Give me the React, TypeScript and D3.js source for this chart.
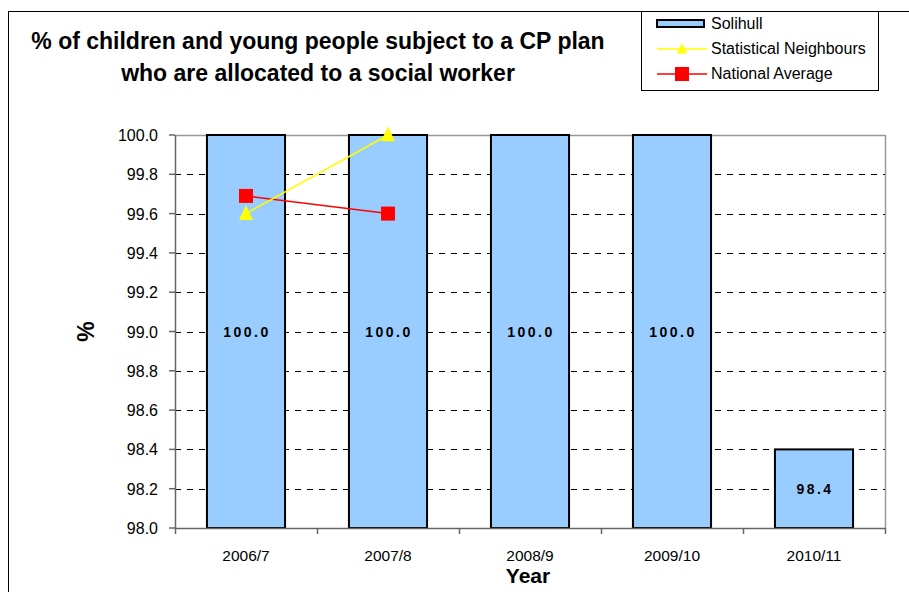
import React from "react";
import * as d3 from "d3";

// Chart data
const years = ["2006/7", "2007/8", "2008/9", "2009/10", "2010/11"];
const solihull = [100.0, 100.0, 100.0, 100.0, 98.4];
const statNeighbours: (number | null)[] = [99.6, 100.0, null, null, null];
const nationalAverage: (number | null)[] = [99.69, 99.6, null, null, null];
const yTicks = [98.0, 98.2, 98.4, 98.6, 98.8, 99.0, 99.2, 99.4, 99.6, 99.8, 100.0];

const W = 909;
const H = 592;
const plot = { left: 175, right: 885, top: 135, bottom: 528 };
const FONT = "'Liberation Sans', Arial, sans-serif";

export default function App() {
  const x = d3
    .scaleBand<string>()
    .domain(years)
    .range([plot.left, plot.right])
    .paddingInner(0.45)
    .paddingOuter(0.225);
  const xOuter = d3.scaleBand<string>().domain(years).range([plot.left, plot.right]);
  const y = d3.scaleLinear().domain([98, 100]).range([plot.bottom, plot.top]);

  const cx = (c: string) => (xOuter(c) as number) + xOuter.bandwidth() / 2;

  const lineGen = d3
    .line<[string, number | null]>()
    .defined((d) => d[1] !== null)
    .x((d) => cx(d[0]))
    .y((d) => y(d[1] as number));

  const snPts = years.map((c, i) => [c, statNeighbours[i]] as [string, number | null]);
  const naPts = years.map((c, i) => [c, nationalAverage[i]] as [string, number | null]);

  const tri = (px: number, py: number, s: number) =>
    `M${px},${py - s * 0.6}L${px + s / 2},${py + s * 0.45}L${px - s / 2},${py + s * 0.45}Z`;

  const boundaries = [...years.map((c) => xOuter(c) as number), plot.right];

  return (
    <div style={{ position: "fixed", left: 0, top: 0 }}>
      <svg width={W} height={H} style={{ display: "block", background: "#fff" }} fontFamily={FONT}>
        {/* outer chart frame */}
        <rect x={8.5} y={11.5} width={W + 20} height={H + 20} fill="none" stroke="#000" strokeWidth={1} />

        {/* title */}
        <text x={318} y={49} textAnchor="middle" fontSize={23} fontWeight="bold" fill="#000">
          % of children and young people subject to a CP plan
        </text>
        <text x={318} y={81} textAnchor="middle" fontSize={23} fontWeight="bold" fill="#000">
          who are allocated to a social worker
        </text>

        {/* gridlines */}
        {yTicks
          .filter((t) => t > 98 && t < 100)
          .map((t) => (
            <line
              key={"g" + t}
              x1={plot.left}
              x2={plot.right}
              y1={Math.round(y(t)) + 0.5}
              y2={Math.round(y(t)) + 0.5}
              stroke="#000"
              strokeWidth={1}
              strokeDasharray="6 6"
            />
          ))}

        {/* plot area border (top & right) */}
        <line x1={plot.left} x2={plot.right} y1={plot.top + 0.5} y2={plot.top + 0.5} stroke="#999" strokeWidth={1.5} />
        <line x1={plot.right + 0.5} x2={plot.right + 0.5} y1={plot.top} y2={plot.bottom} stroke="#999" strokeWidth={1.5} />

        {/* bars */}
        {years.map((c, i) => (
          <rect
            key={"b" + c}
            x={x(c)}
            y={y(solihull[i])}
            width={x.bandwidth()}
            height={y(98) - y(solihull[i])}
            fill="#99CCFF"
            stroke="#000"
            strokeWidth={2}
          />
        ))}

        {/* bar value labels */}
        {years.map((c, i) => (
          <text
            key={"v" + c}
            x={cx(c) + 1}
            y={(y(solihull[i]) + y(98)) / 2 + 5}
            textAnchor="middle"
            fontSize={14}
            fontWeight="bold"
            letterSpacing={2.5}
            fill="#000"
          >
            {solihull[i].toFixed(1)}
          </text>
        ))}

        {/* y axis */}
        <line x1={plot.left + 0.5} x2={plot.left + 0.5} y1={plot.top} y2={plot.bottom} stroke="#666" strokeWidth={1.5} />
        {yTicks.map((t) => (
          <g key={"yt" + t}>
            <line x1={plot.left - 6} x2={plot.left} y1={y(t)} y2={y(t)} stroke="#666" strokeWidth={1.5} />
            <text x={plot.left - 17} y={y(t) + 6} textAnchor="end" fontSize={16} fill="#000">
              {t.toFixed(1)}
            </text>
          </g>
        ))}

        {/* x axis */}
        <line x1={plot.left} x2={plot.right} y1={plot.bottom + 0.5} y2={plot.bottom + 0.5} stroke="#666" strokeWidth={1.5} />
        {boundaries.map((b, i) => (
          <line key={"xt" + i} x1={b + 0.5} x2={b + 0.5} y1={plot.bottom} y2={plot.bottom + 6} stroke="#666" strokeWidth={1.5} />
        ))}
        {years.map((c) => (
          <text key={"xl" + c} x={cx(c)} y={561} textAnchor="middle" fontSize={15.5} fill="#000">
            {c}
          </text>
        ))}

        {/* axis titles */}
        <text x={528} y={583} textAnchor="middle" fontSize={21} fontWeight="bold" fill="#000">
          Year
        </text>
        <text
          transform={`translate(94,${(plot.top + plot.bottom) / 2}) rotate(-90)`}
          textAnchor="middle"
          fontSize={23}
          fontWeight="bold"
          fill="#000"
        >
          %
        </text>

        {/* national average line */}
        <path d={lineGen(naPts) || ""} fill="none" stroke="#FF0000" strokeWidth={1.5} />
        {naPts
          .filter((d) => d[1] !== null)
          .map((d) => (
            <rect key={"na" + d[0]} x={cx(d[0]) - 7} y={y(d[1] as number) - 7} width={14} height={14} fill="#FF0000" />
          ))}

        {/* statistical neighbours line */}
        <path d={lineGen(snPts) || ""} fill="none" stroke="#FFFF00" strokeWidth={1.5} />
        {snPts
          .filter((d) => d[1] !== null)
          .map((d) => (
            <path key={"sn" + d[0]} d={tri(cx(d[0]), y(d[1] as number), 14)} fill="#FFFF00" />
          ))}

        {/* legend */}
        <g>
          <rect x={641.5} y={11.5} width={237} height={79} fill="#fff" stroke="#000" strokeWidth={1} />
          <rect x={657} y={20} width={47} height={7} fill="#99CCFF" stroke="#000" strokeWidth={2} />
          <text x={711} y={29} fontSize={16} fill="#000">Solihull</text>
          <line x1={657} x2={707} y1={49} y2={49} stroke="#FFFF00" strokeWidth={1.5} />
          <path d={tri(682, 49, 10)} fill="#FFFF00" />
          <text x={711} y={54} fontSize={16} fill="#000">Statistical Neighbours</text>
          <line x1={657} x2={707} y1={74} y2={74} stroke="#FF0000" strokeWidth={1.5} />
          <rect x={675} y={67} width={14} height={14} fill="#FF0000" />
          <text x={711} y={79} fontSize={16} fill="#000">National Average</text>
        </g>
      </svg>
    </div>
  );
}
